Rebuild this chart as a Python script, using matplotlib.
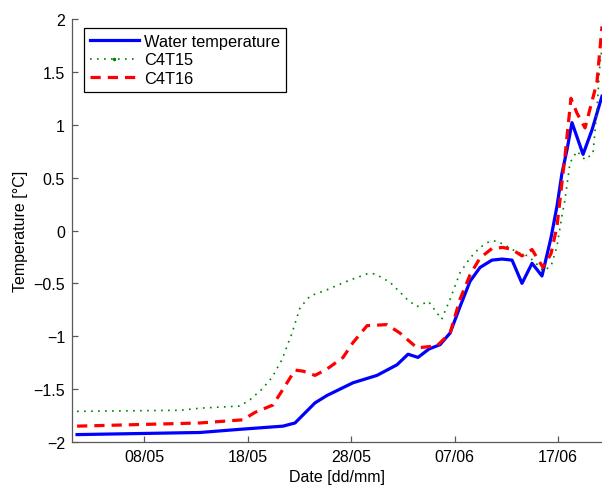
import matplotlib
matplotlib.use("Agg")
import matplotlib.pyplot as plt
from matplotlib.ticker import FuncFormatter

# days since 01/05 (00:00)
water_days = [0.53, 12.41, 16.28, 20.43, 21.59, 23.52, 24.68, 27.19, 29.51, 31.44,
              32.51, 33.47, 34.54, 35.60, 36.57, 37.53, 38.50, 39.46, 40.62, 41.59,
              42.56, 43.52, 44.49, 45.45, 46.32, 46.90, 47.38, 47.86, 48.35, 49.42,
              50.28, 51.25]
water_temp = [-1.93, -1.91, -1.88, -1.85, -1.82, -1.63, -1.56, -1.44, -1.37, -1.27,
              -1.17, -1.20, -1.12, -1.08, -0.97, -0.72, -0.48, -0.35, -0.28, -0.27,
              -0.28, -0.50, -0.31, -0.43, -0.07, 0.23, 0.54, 0.76, 1.02, 0.72,
              0.95, 1.27]

c4t15_days = [0.53, 10.5, 12.41, 16.28, 17.24, 18.40, 19.37, 20.33, 21.30, 22.07,
              23.04, 24.68, 26.61, 28.55, 29.32, 30.77, 32.41, 33.35, 34.47, 35.31,
              35.76, 36.57, 37.53, 38.50, 39.46, 40.43, 41.11, 42.07, 43.14, 44.10,
              44.97, 45.55, 46.32, 46.90, 47.38, 47.67, 48.16, 48.83, 49.61, 50.38,
              50.76, 51.06, 51.25]
c4t15_temp = [-1.71, -1.70, -1.68, -1.66, -1.60, -1.50, -1.39, -1.22, -0.97, -0.73,
              -0.62, -0.56, -0.48, -0.41, -0.41, -0.49, -0.65, -0.72, -0.67, -0.78,
              -0.84, -0.65, -0.40, -0.26, -0.16, -0.10, -0.10, -0.15, -0.21, -0.24,
              -0.32, -0.38, -0.34, -0.15, 0.14, 0.29, 0.64, 0.75, 0.67, 0.73,
              1.14, 1.59, 1.72]

c4t16_days = [0.53, 12.41, 16.57, 17.72, 19.46, 20.43, 21.59, 22.36, 23.52, 24.68,
              26.23, 27.19, 28.55, 30.48, 31.73, 33.38, 35.31, 36.57, 37.53, 38.50,
              39.46, 40.62, 41.69, 42.56, 43.52, 44.49, 45.55, 46.32, 46.90, 47.67,
              48.25, 48.83, 49.61, 50.76, 51.25]
c4t16_temp = [-1.85, -1.82, -1.79, -1.72, -1.65, -1.50, -1.32, -1.33, -1.37, -1.31,
              -1.20, -1.06, -0.90, -0.89, -0.97, -1.11, -1.09, -0.97, -0.65, -0.42,
              -0.26, -0.17, -0.16, -0.18, -0.24, -0.18, -0.35, -0.22, 0.04, 0.70,
              1.25, 1.11, 0.97, 1.40, 1.93]

tick_days = [7, 17, 27, 37, 47]
tick_labels = ["08/05", "18/05", "28/05", "07/06", "17/06"]

plt.rcParams["font.family"] = ["Liberation Sans", "DejaVu Sans"]
plt.rcParams["font.size"] = 11.5

fig = plt.figure(figsize=(6.02, 4.89), dpi=100)
ax = fig.add_axes([72 / 602, 1 - 443 / 489, 530 / 602, 423 / 489])

ax.plot(water_days, water_temp, color="#0000ff", lw=2.3, label="Water temperature")
ax.plot(c4t15_days, c4t15_temp, color="#008000", lw=1.2, ls=(0, (1, 3.2)),
        marker=".", markersize=0.1, label="C4T15")
ax.plot(c4t16_days, c4t16_temp, color="#ff0000", lw=2.3, ls=(0, (3.2, 2.2)),
        label="C4T16")

ax.set_xlim(0.04, 51.25)
ax.set_ylim(-2, 2)
ax.set_xticks(tick_days)
ax.set_xticklabels(tick_labels)
ax.set_yticks([-2, -1.5, -1, -0.5, 0, 0.5, 1, 1.5, 2])
ax.yaxis.set_major_formatter(FuncFormatter(lambda v, p: ("%g" % v).replace("-", "\u2212")))

for side in ["top", "right"]:
    ax.spines[side].set_visible(False)
for side in ["left", "bottom"]:
    ax.spines[side].set_color("0.35")
    ax.spines[side].set_linewidth(0.9)
ax.tick_params(direction="in", length=4, width=0.9, color="0.35", pad=5)

ax.set_xlabel("Date [dd/mm]", labelpad=4)
ax.set_ylabel("Temperature [°C]", labelpad=4)

leg = ax.legend(loc="upper left", bbox_to_anchor=(84 / 602, 1 - 29 / 489),
                bbox_transform=fig.transFigure, borderaxespad=0, fancybox=False,
                edgecolor="black", framealpha=1, handlelength=3.0, handletextpad=0.3,
                labelspacing=0.22, borderpad=0.35, numpoints=1, fontsize=11.8)
leg.get_frame().set_linewidth(0.9)
for h in leg.legend_handles:
    h.set_markersize(3)

fig.savefig("out.png", dpi=100)
